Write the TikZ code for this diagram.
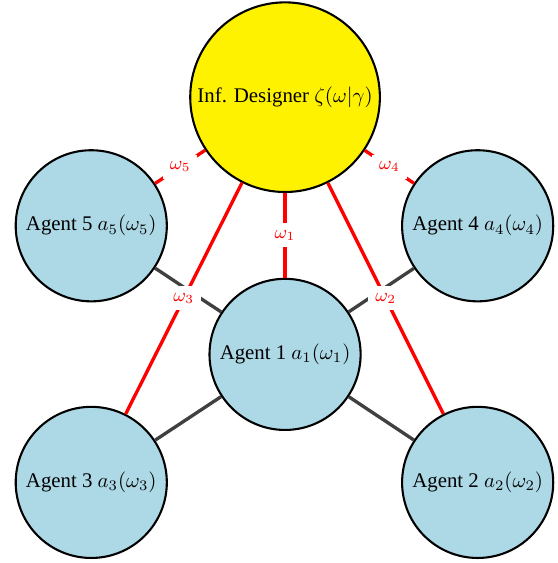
\documentclass[tikz,border=0pt]{standalone}
\usepackage{amsmath}
\usepackage{fontspec}
\setmainfont{Liberation Serif}
\definecolor{agentblue}{RGB}{173,216,230}

\begin{document}
\begin{tikzpicture}[
    designer/.style={circle,draw,line width=1pt,fill=yellow,minimum size=3.2cm,inner sep=0pt},
    agent/.style={circle,draw,line width=1pt,fill=agentblue,minimum size=2.55cm,inner sep=0pt},
    link/.style={ultra thick,black!75},
    signal/.style={ultra thick,red},
    omega/.style={midway,fill=white,text=red,font=\small}]
\useasboundingbox (-4.81,1.64) rectangle (4.60,-7.86);
\node[designer] (d) at (0,0) {Inf. Designer $\zeta(\omega|\gamma)$};
\node[agent] (a1) at (0,-4.34) {Agent 1 $a_1(\omega_1)$};
\node[agent] (a2) at (3.25,-6.50) {Agent 2 $a_2(\omega_2)$};
\node[agent] (a3) at (-3.27,-6.50) {Agent 3 $a_3(\omega_3)$};
\node[agent] (a4) at (3.25,-2.17) {Agent 4 $a_4(\omega_4)$};
\node[agent] (a5) at (-3.27,-2.17) {Agent 5 $a_5(\omega_5)$};
\foreach \i in {2,...,5}
    \draw[link] (a1) -- (a\i);
\foreach \i in {1,...,5}
    \draw[signal] (d) -- node[omega] {$\omega_\i$} (a\i);
\end{tikzpicture}
\end{document}
